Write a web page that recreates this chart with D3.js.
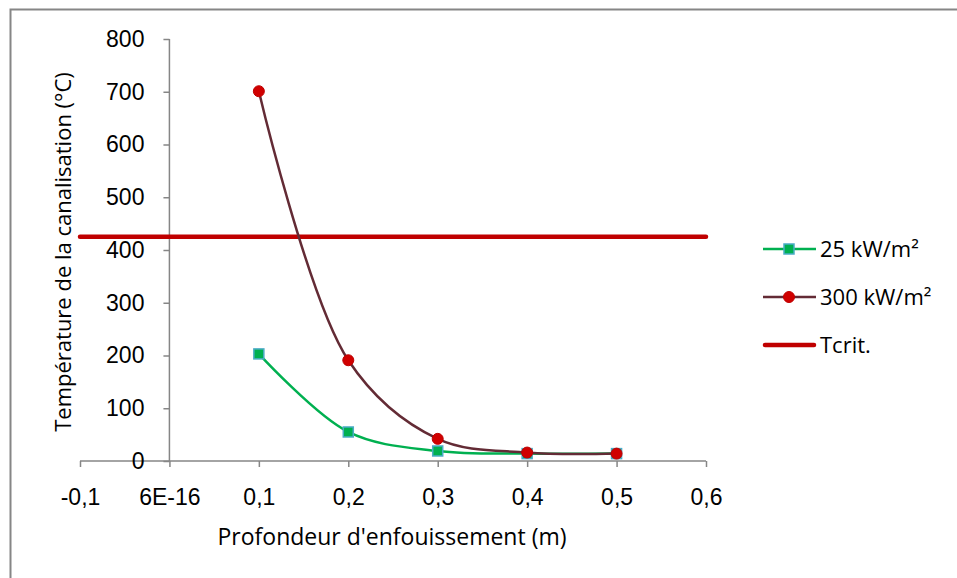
<!DOCTYPE html>
<html>
<head>
<meta charset="utf-8">
<script src="https://cdn.jsdelivr.net/npm/d3@7"></script>
<style>
  body { margin: 0; background: #fff; }
  svg { font-family: "Open Sans", sans-serif; }
</style>
</head>
<body>
<svg width="957" height="578"></svg>
<script>
// depth (m)
const depths = [0.1, 0.2, 0.3, 0.4, 0.5];
const temp25 = [203, 55, 19, 14, 14];
const temp300 = [701, 191, 42, 16, 14];
const tcritX = [-0.1, 0.6];
const tcritY = [425, 425];

const xTicks = [-0.1, 0, 0.1, 0.2, 0.3, 0.4, 0.5, 0.6];
const xTickLabels = ['-0,1', '6E-16', '0,1', '0,2', '0,3', '0,4', '0,5', '0,6'];
const yTicks = [0, 100, 200, 300, 400, 500, 600, 700, 800];

const seriesNames = ['25 kW/m²', '300 kW/m²', 'Tcrit.'];

const svg = d3.select('svg');

// chart border
svg.append('rect')
    .attr('x', 10.5).attr('y', 9.5)
    .attr('width', 960).attr('height', 600)
    .attr('fill', 'none')
    .attr('stroke', '#868686')
    .attr('stroke-width', 2);

const xScale = d3.scaleLinear().domain([-0.1, 0.6]).range([80, 706]);
const yScale = d3.scaleLinear().domain([0, 800]).range([461, 39]);

const axisColor = '#868686';
const fs = '23px';

// x-axis (at y = 0)
const xAxis = svg.append('g')
    .attr('transform', `translate(0, ${yScale(0)})`)
    .call(d3.axisBottom(xScale)
        .tickValues(xTicks)
        .tickSize(6)
        .tickPadding(22)
        .tickFormat((d, i) => xTickLabels[i]));

// y-axis (at x = 0)
const yAxis = svg.append('g')
    .attr('transform', `translate(${xScale(0)}, 0)`)
    .call(d3.axisLeft(yScale)
        .tickValues(yTicks)
        .tickSize(6)
        .tickPadding(19)
        .tickFormat(d => d));

[xAxis, yAxis].forEach(a => {
    a.select('.domain').attr('stroke', axisColor).attr('stroke-width', 1.5);
    a.selectAll('.tick line').attr('stroke', axisColor).attr('stroke-width', 1.5);
    a.selectAll('.tick text')
        .attr('fill', '#000')
        .style('font-size', fs);
});
yAxis.select('.domain').attr('d', `M0,${yScale(800)}V${yScale(0)}`);
xAxis.select('.domain').attr('d', `M${xScale(-0.1)},0H${xScale(0.6)}`);

// axis titles
svg.append('text')
    .attr('x', 392).attr('y', 545)
    .attr('text-anchor', 'middle')
    .style('font-size', fs)
    .text("Profondeur d'enfouissement (m)");

svg.append('text')
    .attr('transform', `translate(71, 252) rotate(-90)`)
    .attr('text-anchor', 'middle')
    .style('font-size', '22px')
    .text('Température de la canalisation (°C)');

const line = d3.line()
    .x(d => xScale(d[0]))
    .y(d => yScale(d[1]))
    .curve(d3.curveCatmullRom.alpha(0.5));

const pts25 = depths.map((d, i) => [d, temp25[i]]);
const pts300 = depths.map((d, i) => [d, temp300[i]]);
const ptsCrit = tcritX.map((d, i) => [d, tcritY[i]]);

// Tcrit
svg.append('path')
    .datum(ptsCrit)
    .attr('fill', 'none')
    .attr('stroke', '#C00000')
    .attr('stroke-width', 4.5)
    .attr('stroke-linecap', 'round')
    .attr('d', d3.line().x(d => xScale(d[0])).y(d => yScale(d[1])));

// 25 kW/m2
svg.append('path')
    .datum(pts25)
    .attr('fill', 'none')
    .attr('stroke', '#00B050')
    .attr('stroke-width', 2.5)
    .attr('d', line);

svg.selectAll('.sq')
    .data(pts25)
    .join('rect')
    .attr('x', d => xScale(d[0]) - 5)
    .attr('y', d => yScale(d[1]) - 5)
    .attr('width', 10).attr('height', 10)
    .attr('fill', '#00B050')
    .attr('stroke', '#4BACC6')
    .attr('stroke-width', 1.5);

// 300 kW/m2
svg.append('path')
    .datum(pts300)
    .attr('fill', 'none')
    .attr('stroke', '#632B35')
    .attr('stroke-width', 2.5)
    .attr('d', line);

svg.selectAll('.dot')
    .data(pts300)
    .join('circle')
    .attr('cx', d => xScale(d[0]))
    .attr('cy', d => yScale(d[1]))
    .attr('r', 5.5)
    .attr('fill', '#D00000')
    .attr('stroke', '#C00000')
    .attr('stroke-width', 1);

// legend
const legend = svg.append('g').attr('transform', 'translate(763, 249)');
seriesNames.forEach((name, i) => {
    const g = legend.append('g').attr('transform', `translate(0, ${i * 48})`);
    if (i === 0) {
        g.append('line').attr('x1', 0).attr('x2', 53).attr('stroke', '#00B050').attr('stroke-width', 2.5);
        g.append('rect').attr('x', 21).attr('y', -5).attr('width', 10).attr('height', 10)
            .attr('fill', '#00B050').attr('stroke', '#4BACC6').attr('stroke-width', 1.5);
    } else if (i === 1) {
        g.append('line').attr('x1', 0).attr('x2', 53).attr('stroke', '#632B35').attr('stroke-width', 2.5);
        g.append('circle').attr('cx', 26).attr('r', 5.5)
            .attr('fill', '#D00000').attr('stroke', '#C00000');
    } else {
        g.append('line').attr('x1', 2).attr('x2', 51).attr('stroke', '#C00000')
            .attr('stroke-width', 4.5).attr('stroke-linecap', 'round');
    }
    g.append('text')
        .attr('x', 57).attr('y', 8)
        .style('font-size', '22px')
        .text(name);
});
</script>
</body>
</html>
